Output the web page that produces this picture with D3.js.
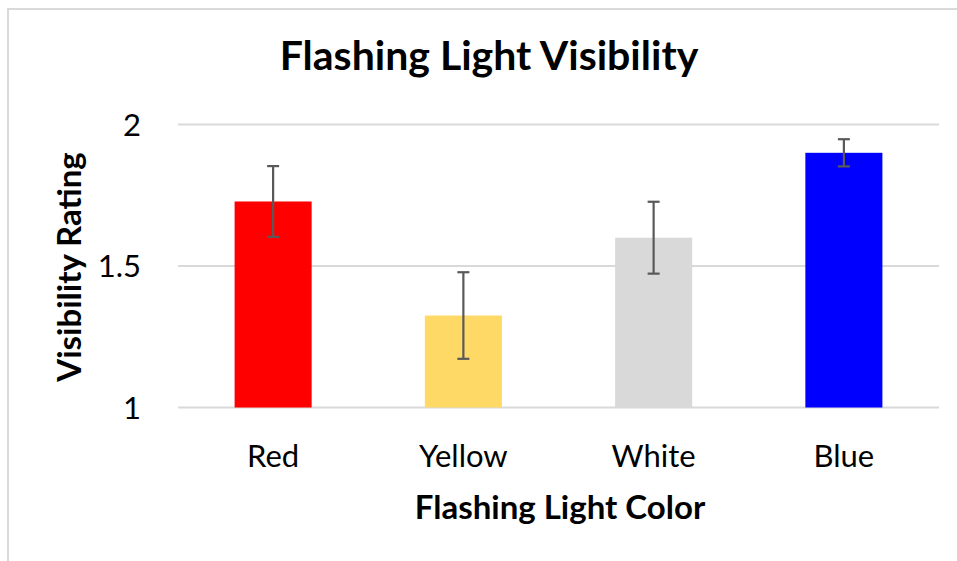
<!DOCTYPE html>
<html>
<head>
<meta charset="utf-8">
<script src="https://cdn.jsdelivr.net/npm/d3@7"></script>
<style>
  body { margin: 0; background: #fff; }
  svg { display: block; }
  text { font-family: Lato, 'Noto Sans', sans-serif; fill: #000; }
</style>
</head>
<body>
<div id="chart"></div>
<script>
// Data
var categories = ['Red', 'Yellow', 'White', 'Blue'];
var means = [1.728, 1.325, 1.600, 1.900];
var errors = [0.125, 0.153, 0.127, 0.048];
var barColors = ['#FF0000', '#FFD966', '#D9D9D9', '#0000FF'];
var yTicks = [1, 1.5, 2];

var WIDTH = 957,
    HEIGHT = 561,
    PLOT_LEFT = 178,
    PLOT_RIGHT = 939,
    PLOT_TOP = 124.5,
    PLOT_BOTTOM = 407.5;

var GRID_GREY = '#D9D9D9',
    ERR_GREY = '#595959';

var svg = d3.select('#chart')
  .append('svg')
  .attr('width', WIDTH)
  .attr('height', HEIGHT);

// Chart area border (only top and left show in the crop)
svg.append('path')
  .attr('d', 'M8,' + HEIGHT + 'V9H' + WIDTH)
  .attr('fill', 'none')
  .attr('stroke', GRID_GREY)
  .attr('stroke-width', 2);

var x = d3.scaleBand()
  .domain(categories)
  .range([PLOT_LEFT, PLOT_RIGHT])
  .paddingInner(0.595)
  .paddingOuter(0.2975);

var y = d3.scaleLinear()
  .domain([1, 2])
  .range([PLOT_BOTTOM, PLOT_TOP]);

// Gridlines
svg.append('g')
  .selectAll('line')
  .data(yTicks)
  .enter().append('line')
  .attr('x1', PLOT_LEFT)
  .attr('x2', PLOT_RIGHT)
  .attr('y1', function(d) { return y(d); })
  .attr('y2', function(d) { return y(d); })
  .attr('stroke', GRID_GREY)
  .attr('stroke-width', 2);

// Y tick labels
svg.append('g')
  .selectAll('text')
  .data(yTicks)
  .enter().append('text')
  .attr('x', 141)
  .attr('y', function(d) { return y(d); })
  .attr('dy', '0.36em')
  .attr('text-anchor', 'end')
  .attr('font-size', '31px')
  .text(function(d) { return d3.format('~g')(d); });

// Bars
svg.append('g')
  .selectAll('rect')
  .data(categories)
  .enter().append('rect')
  .attr('x', function(d) { return x(d); })
  .attr('width', x.bandwidth())
  .attr('y', function(d, i) { return y(means[i]); })
  .attr('height', function(d, i) { return y(1) - y(means[i]); })
  .attr('fill', function(d, i) { return barColors[i]; });

// Error bars
var err = svg.append('g')
  .attr('stroke', ERR_GREY)
  .attr('stroke-width', 2.2)
  .selectAll('g')
  .data(categories)
  .enter().append('g')
  .attr('transform', function(d) { return 'translate(' + (x(d) + x.bandwidth() / 2) + ',0)'; });

err.append('line')
  .attr('y1', function(d, i) { return y(means[i] + errors[i]); })
  .attr('y2', function(d, i) { return y(means[i] - errors[i]); });

err.selectAll('line.cap')
  .data(function(d, i) { return [means[i] + errors[i], means[i] - errors[i]]; })
  .enter().append('line')
  .attr('class', 'cap')
  .attr('x1', -6)
  .attr('x2', 6)
  .attr('y1', function(v) { return y(v); })
  .attr('y2', function(v) { return y(v); });

// Category labels
svg.append('g')
  .selectAll('text')
  .data(categories)
  .enter().append('text')
  .attr('x', function(d) { return x(d) + x.bandwidth() / 2; })
  .attr('y', 467)
  .attr('text-anchor', 'middle')
  .attr('font-size', '31px')
  .text(function(d) { return d; });

// Title
svg.append('text')
  .attr('x', 489)
  .attr('y', 70)
  .attr('text-anchor', 'middle')
  .attr('font-size', '41px')
  .attr('font-weight', 'bold')
  .text('Flashing Light Visibility');

// X axis title
svg.append('text')
  .attr('x', 560)
  .attr('y', 519)
  .attr('text-anchor', 'middle')
  .attr('font-size', '33px')
  .attr('font-weight', 'bold')
  .text('Flashing Light Color');

// Y axis title
svg.append('text')
  .attr('transform', 'translate(81,267) rotate(-90)')
  .attr('text-anchor', 'middle')
  .attr('font-size', '33px')
  .attr('font-weight', 'bold')
  .text('Visibility Rating');
</script>
</body>
</html>
